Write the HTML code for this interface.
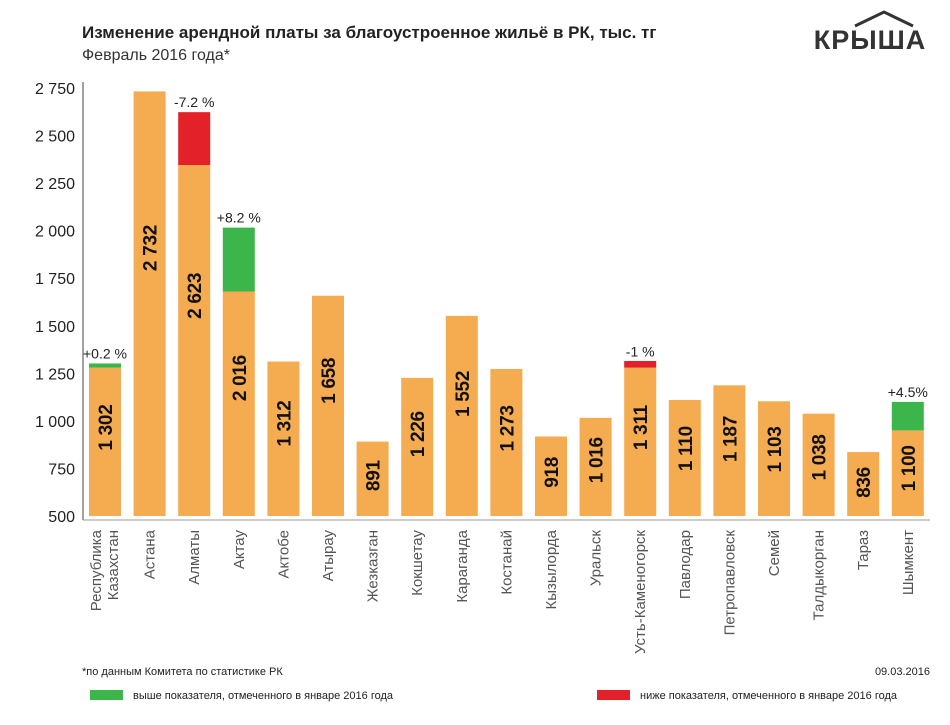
<!DOCTYPE html>
<html><head><meta charset="utf-8">
<style>
body{margin:0;background:#fff;font-family:"Liberation Sans",sans-serif;}
svg text{font-family:"Liberation Sans","DejaVu Sans",sans-serif;}
</style></head>
<body>
<svg width="950" height="720" viewBox="0 0 950 720">
<text x="82" y="38" font-size="17" font-weight="bold" fill="#222">Изменение  арендной платы за благоустроенное жильё в РК, тыс. тг</text>
<text x="82" y="60" font-size="16" fill="#333">Февраль 2016 года*</text>
<g>
<path d="M855 26 L884 12 L913 26" fill="none" stroke="#333" stroke-width="3"/>
<text x="870" y="49" font-size="27" font-weight="bold" fill="#333" text-anchor="middle" letter-spacing="1">КРЫША</text>
</g>
<g id="axis"></g>
<g id="bars"></g>
<text x="82" y="675" font-size="11" fill="#222">*по данным Комитета по статистике РК</text>
<text x="930" y="675" font-size="11" fill="#222" text-anchor="end">09.03.2016</text>
<rect x="90" y="690" width="33" height="10" fill="#3cb54a"/>
<text x="133" y="699" font-size="11" fill="#222">выше показателя, отмеченного в январе 2016 года</text>
<rect x="597" y="690" width="33" height="10" fill="#e32128"/>
<text x="640" y="699" font-size="11" fill="#222">ниже показателя, отмеченного в  январе 2016 года</text>
</svg>
<script>
const categories=["Республика\nКазахстан","Астана","Алматы","Актау","Актобе","Атырау","Жезказган","Кокшетау","Караганда","Костанай","Кызылорда","Уральск","Усть-Каменогорск","Павлодар","Петропавловск","Семей","Талдыкорган","Тараз","Шымкент"];
const values=[1302,2732,2623,2016,1312,1658,891,1226,1552,1273,918,1016,1311,1110,1187,1103,1038,836,1100];
const baseValues=[1280,2732,2345,1680,1312,1658,891,1226,1552,1273,918,1016,1280,1110,1187,1103,1038,836,950];
const changeLabels=["+0.2 %","","-7.2 %","+8.2 %","","","","","","","","","-1 %","","","","","","+4.5%"];
const yTicks=[500,750,1000,1250,1500,1750,2000,2250,2500,2750];
const NS="http://www.w3.org/2000/svg";
const yMin=500,yMax=2750,y0=516,y1=88;
function y(v){return y0-(v-yMin)*(y0-y1)/(yMax-yMin);}
function x(i){return 105+i*44.6;}
function mk(tag,attrs,parent,text){const e=document.createElementNS(NS,tag);for(const k in attrs)e.setAttribute(k,attrs[k]);if(text!==undefined)e.textContent=text;parent.appendChild(e);return e;}
const ax=document.getElementById('axis'),bg=document.getElementById('bars');
let l=mk('line',{x1:83,y1:82,x2:83,y2:520,stroke:'#444','stroke-width':1},ax);


l=mk('line',{x1:83,y1:520,x2:930,y2:520,stroke:'#999','stroke-width':1},ax);


yTicks.forEach(t=>{
 const s=t.toString().replace(/\B(?=(\d{3})+(?!\d))/g,' ');
 const tx=mk('text',{x:75,y:y(t)+6,'font-size':16,fill:'#222','text-anchor':'end'},ax,s);
 
 
});
values.forEach((v,i)=>{
 const cx=x(i),w=32;
 const b=baseValues[i];
 const r=mk('rect',{x:cx-w/2,y:y(b),width:w,height:y0-y(b),fill:'#f5ab4f'},bg);
 
 
 if(v!==b){
  const up=changeLabels[i].startsWith('+');
  const top=up?v:Math.max(v,b+35);
  const s=mk('rect',{x:cx-w/2,y:y(top),width:w,height:y(b)-y(top),fill:up?'#3cb54a':'#e32128'},bg);
  
  
 }
 const barTop=y(Math.max(v,b));
 if(changeLabels[i]){
  const c=mk('text',{x:cx,y:barTop-5,'font-size':14,fill:'#222','text-anchor':'middle'},bg,changeLabels[i]);
  
  
 }
 const ot=y(b);
 const cy=ot+0.35*(y0-ot)+8;
 const s=v.toString().replace(/\B(?=(\d{3})+(?!\d))/g,' ');
 const vt=mk('text',{x:cx+7,y:cy,'font-size':19,'font-weight':'bold',fill:'#111','text-anchor':'middle','letter-spacing':'-0.3',transform:`rotate(-90 ${cx+7} ${cy})`},bg,s);
 
 
 const lines=categories[i].split('\n');
 lines.forEach((ln,j)=>{
  const lx=cx+5-(lines.length-1-j)*17+(lines.length>1?8:0);
  const t=mk('text',{x:lx,y:530,'font-size':15,fill:'#555','text-anchor':'end',transform:`rotate(-90 ${lx} 530)`},bg,ln);
  
  
 });
});
</script>
</body></html>
